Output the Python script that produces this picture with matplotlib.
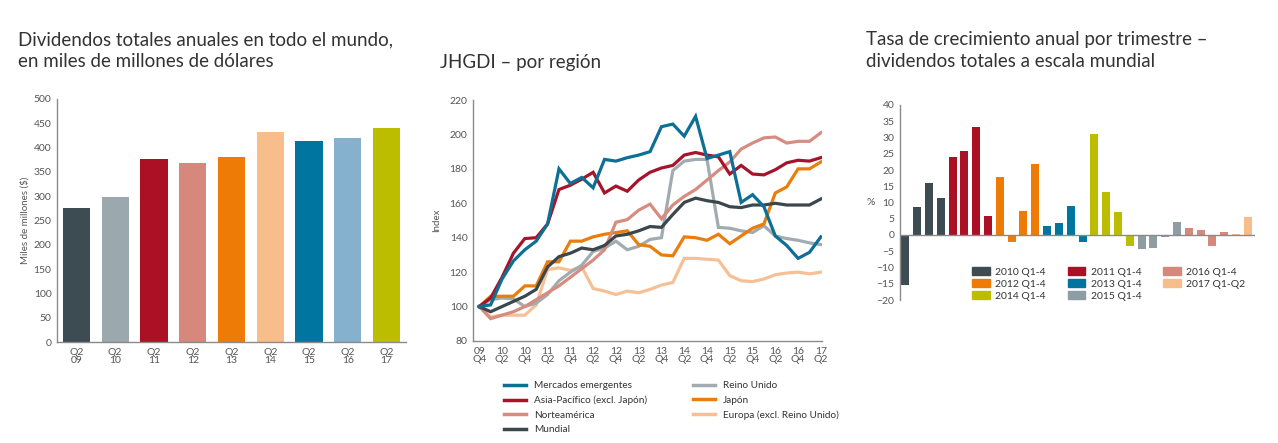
import matplotlib.pyplot as plt
from matplotlib.patches import Patch
from matplotlib.lines import Line2D

plt.rcParams['font.family'] = ['Lato', 'DejaVu Sans']

# --- data: annual dividends (left) ---
years_left = ['Q2\n09', 'Q2\n10', 'Q2\n11', 'Q2\n12', 'Q2\n13', 'Q2\n14', 'Q2\n15', 'Q2\n16', 'Q2\n17']
dividends = [275, 298, 376, 368, 381, 432, 413, 419, 441]
bar_colors_left = ['#3d4b52', '#9ba8ae', '#ab1024', '#d5887b', '#ed7b05', '#f7bd8b', '#00759f', '#85b1cf', '#bdbd00']

# --- data: JHGDI by region (middle), quarterly 09Q4 .. 17Q2 ---
quarter_labels = ['09\nQ4', '10\nQ2', '10\nQ4', '11\nQ2', '11\nQ4', '12\nQ2', '12\nQ4', '13\nQ2',
                  '13\nQ4', '14\nQ2', '14\nQ4', '15\nQ2', '15\nQ4', '16\nQ2', '16\nQ4', '17\nQ2']
emergentes = [100, 101, 116, 126.5, 133, 138, 148, 180, 171.5, 175, 169, 185.5, 184.5, 186.5, 188, 190,
              204.5, 206, 199, 210.5, 186, 188, 190, 160.5, 165, 158, 141, 135.5, 128, 131.5, 140.5]
asia_pac = [100, 105, 117, 131, 139.5, 140, 148, 168, 170.5, 174, 178, 166, 170, 167, 173.5, 178,
            180.5, 182, 188, 189.5, 188, 187, 177, 182, 177, 176.5, 179.5, 183.5, 185, 184.5, 186.5]
norteamerica = [100, 93, 95, 97, 100, 104, 108, 112, 117, 122, 127, 133, 149, 150.5, 156, 159.5,
                151, 159, 164, 168, 173.5, 179, 184, 191.5, 195, 198, 198.5, 195, 196, 196, 201]
mundial = [100, 97, 100, 103, 106, 110, 123, 129, 131, 134, 133, 135.5, 141, 142, 144, 146.5,
           146, 153.5, 160.5, 163, 161.5, 160.5, 158, 157.5, 159, 159, 160, 159, 159, 159, 162.5]
reino_unido = [100, 104, 105, 104.5, 100, 102, 107, 115, 120, 124, 132, 134, 138, 133, 135, 139,
               140, 179, 184.5, 185.5, 185.5, 146, 145.5, 144, 143, 147, 141, 139.5, 138.5, 137, 136]
japon = [100, 106, 106, 106, 112, 112, 126, 126, 138, 138, 140.5, 142, 143, 144, 136, 135,
         130, 129.5, 140.5, 140, 138.5, 142, 136.5, 141, 145.5, 148, 166, 169.5, 180, 180, 184]
europa = [100, 94, 95, 95, 95, 101, 121.5, 122.5, 121, 123, 110.5, 109, 107, 109, 108, 110,
          112.5, 114, 128, 128, 127.5, 127, 118, 115, 114.5, 116, 118.5, 119.5, 120, 119, 120]

# --- data: quarterly growth (right) ---
growth = [-15.3, 8.5, 16, 11.5,
          24, 25.8, 33.3, 6,
          18, -2, 7.5, 22,
          2.8, 3.6, 9, -2,
          31, 13.2, 7, -3.3,
          -4.3, -4, -0.5, 4,
          2.3, 1.4, -3.5, 0.8,
          0.2, 5.5]
growth_group = ['2010'] * 4 + ['2011'] * 4 + ['2012'] * 4 + ['2013'] * 4 + \
               ['2014'] * 4 + ['2015'] * 4 + ['2016'] * 4 + ['2017'] * 2
group_colors = {'2010': '#3d4b52', '2011': '#ab1024', '2012': '#ed7b05', '2013': '#00759f',
                '2014': '#bdbd00', '2015': '#8e9ca4', '2016': '#d5887b', '2017': '#f7bd8b'}
group_labels = {'2010': '2010 Q1-4', '2011': '2011 Q1-4', '2012': '2012 Q1-4', '2013': '2013 Q1-4',
                '2014': '2014 Q1-4', '2015': '2015 Q1-4', '2016': '2016 Q1-4', '2017': '2017 Q1-Q2'}

TXT = '#333333'
TICK = '#555555'
SPINE = '#8a8a8a'

fig = plt.figure(figsize=(12.78, 4.43), dpi=100)
W, H = 1278, 443


def px_axes(l, t, r, b):
    return fig.add_axes([l / W, 1 - b / H, (r - l) / W, (b - t) / H])


def style(ax):
    for s in ['top', 'right']:
        ax.spines[s].set_visible(False)
    for s in ['left', 'bottom']:
        ax.spines[s].set_color(SPINE)
        ax.spines[s].set_linewidth(1)
    ax.tick_params(length=0, labelsize=7.5, labelcolor=TICK, pad=4)


# left chart
ax1 = px_axes(57, 99, 406, 342)
ax1.bar(range(len(dividends)), dividends, width=0.7, color=bar_colors_left)
ax1.set_xlim(-0.5, 8.5)
ax1.set_ylim(0, 500)
ax1.set_yticks(range(0, 501, 50))
ax1.set_xticks(range(len(years_left)))
ax1.set_xticklabels(years_left, linespacing=0.95)
ax1.set_ylabel('Miles de millones ($)', fontsize=7, color=TICK, labelpad=3)
style(ax1)
fig.text(18 / W, 1 - 31 / H, 'Dividendos totales anuales en todo el mundo,\nen miles de millones de dólares',
         fontsize=13.5, color=TXT, va='top', ha='left', linespacing=1.35)

# middle chart
ax2 = px_axes(473, 100, 822, 341)
x = range(len(mundial))
series = [
    ('Mercados emergentes', emergentes, '#0d6f95'),
    ('Asia-Pacífico (excl. Japón)', asia_pac, '#a6142b'),
    ('Norteamérica', norteamerica, '#d78c80'),
    ('Mundial', mundial, '#3b474d'),
    ('Reino Unido', reino_unido, '#a2abb0'),
    ('Japón', japon, '#ea7d0c'),
    ('Europa (excl. Reino Unido)', europa, '#f6c096'),
]
draw_order = ['Europa (excl. Reino Unido)', 'Reino Unido', 'Japón', 'Norteamérica', 'Mundial',
              'Asia-Pacífico (excl. Japón)', 'Mercados emergentes']
lookup = {name: (vals, c) for name, vals, c in series}
for name in draw_order:
    vals, c = lookup[name]
    ax2.plot(x, vals, color=c, linewidth=2.3, solid_joinstyle='miter')
ax2.set_xlim(-0.55, 30.1)
ax2.set_ylim(80, 220)
ax2.set_yticks(range(80, 221, 20))
ax2.set_xticks(range(0, 31, 2))
ax2.set_xticklabels(quarter_labels, linespacing=0.95)
ax2.set_ylabel('Index', fontsize=7, color=TICK, labelpad=6)
style(ax2)
handles = [Line2D([], [], color=c, linewidth=2.5) for _, _, c in series]
ax2.legend(handles, [n for n, _, _ in series], ncol=2, frameon=False, fontsize=7.2,
           loc='upper left', bbox_to_anchor=(22 / 349, -0.13), handlelength=2.2,
           handletextpad=0.8, columnspacing=4.6, labelspacing=0.55, labelcolor=TXT)
fig.text(440 / W, 1 - 54 / H, 'JHGDI – por región', fontsize=13.5, color=TXT, va='top', ha='left')

# right chart
ax3 = px_axes(900, 105, 1255, 300)
cols = [group_colors[g] for g in growth_group]
ax3.bar(range(len(growth)), growth, width=0.68, color=cols)
ax3.axhline(0, color=SPINE, linewidth=1)
ax3.set_xlim(-0.45, 29.6)
ax3.set_ylim(-20, 40)
ax3.set_yticks(range(-20, 41, 5))
ax3.set_xticks([])
style(ax3)
ax3.spines['bottom'].set_visible(False)
ax3.set_ylabel('%', fontsize=7.5, color=TICK, rotation=0, labelpad=4, va='center')
leg_order = ['2010', '2012', '2014', '2011', '2013', '2015', '2016', '2017']
ax3.legend([Patch(color=group_colors[g]) for g in leg_order], [group_labels[g] for g in leg_order],
           ncol=3, frameon=False, fontsize=7.5, loc='upper left', bbox_to_anchor=(63 / 355, 0.215),
           handlelength=1.7, handleheight=0.7, handletextpad=0.5, columnspacing=2.1,
           labelspacing=0.25, labelcolor=TXT)
fig.text(866 / W, 1 - 31 / H, 'Tasa de crecimiento anual por trimestre –\ndividendos totales a escala mundial',
         fontsize=13.5, color=TXT, va='top', ha='left', linespacing=1.35)

fig.savefig('out.png', dpi=100)
